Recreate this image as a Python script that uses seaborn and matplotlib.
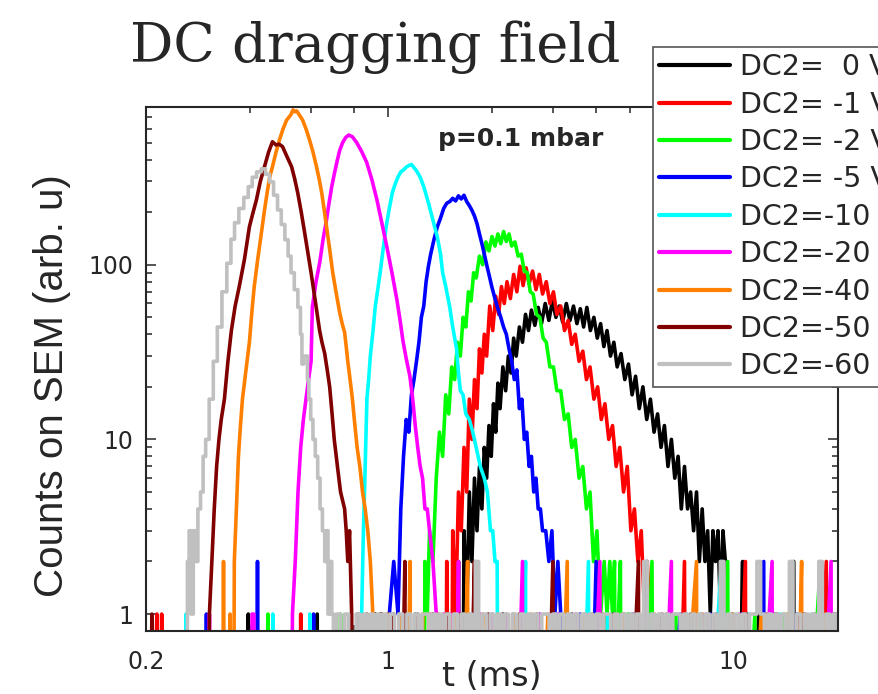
import numpy as np
import pandas as pd
import seaborn as sns
import matplotlib.pyplot as plt
from matplotlib.ticker import FixedLocator, NullFormatter

# time-of-flight histograms (t in ms, counts; 0 = empty bin)
t_0v = [0.2, 0.39, 0.395, 0.40, 0.62, 0.625, 0.63, 0.9, 0.92, 0.93, 1.15, 1.2, 1.22, 1.35, 1.37,
        1.55, 1.60, 1.63, 1.66, 1.69, 1.72, 1.75, 1.78, 1.81, 1.84, 1.87, 1.90, 1.93, 1.96, 1.99,
        2.02, 2.05, 2.08, 2.11, 2.15, 2.19, 2.23, 2.27, 2.31, 2.35, 2.40, 2.45, 2.50, 2.55, 2.60,
        2.66, 2.72, 2.78, 2.85, 2.92, 2.99, 3.06, 3.13, 3.20, 3.28, 3.36, 3.44, 3.52, 3.60, 3.68,
        3.76, 3.85, 3.94, 4.03, 4.12, 4.21, 4.30, 4.40, 4.50, 4.60, 4.72, 4.84, 4.96, 5.08, 5.20,
        5.33, 5.46, 5.60, 5.74, 5.88, 6.02, 6.16, 6.30, 6.45, 6.60, 6.75, 6.90, 7.05, 7.20, 7.35,
        7.50, 7.65, 7.80, 7.95, 8.10, 8.25, 8.40, 8.55, 8.70, 8.85, 9.00, 9.15, 9.30, 9.45, 9.55,
        9.9, 10.0, 10.6, 10.7, 11.8, 11.9, 13.1, 13.2, 14.9, 15.0, 17.2, 17.3, 19.4, 19.5, 20.0]
n_0v = [0, 0, 1, 0, 0, 1, 0, 0, 1, 0, 0, 1, 0, 1, 0,
        0, 2, 0, 3, 1, 5, 2, 6, 3, 7, 4, 9, 6, 12, 8,
        16, 11, 21, 15, 26, 19, 30, 24, 38, 30, 44, 36, 52, 42, 55,
        45, 57, 46, 60, 48, 62, 50, 58, 47, 60, 48, 58, 46, 56, 44,
        57, 42, 50, 38, 46, 34, 42, 30, 36, 26, 31, 22, 27, 18, 23,
        15, 20, 13, 17, 11, 14, 9, 12, 7, 10, 6, 8, 4, 7, 4,
        5, 3, 5, 2, 4, 2, 3, 1, 3, 2, 3, 1, 3, 2, 0,
        1, 0, 2, 0, 1, 0, 1, 0, 2, 0, 1, 0, 1, 0, 0]

t_1v = [0.2, 0.215, 0.218, 0.222, 0.226, 0.55, 0.56, 0.57, 0.98, 1.0, 1.02, 1.30, 1.32, 1.34,
        1.45, 1.48, 1.51, 1.54, 1.57, 1.60, 1.63, 1.66, 1.69, 1.72, 1.75, 1.78, 1.81, 1.84, 1.87,
        1.90, 1.93, 1.97, 2.01, 2.05, 2.09, 2.13, 2.17, 2.21, 2.26, 2.31, 2.36, 2.41, 2.46, 2.51,
        2.56, 2.62, 2.68, 2.74, 2.80, 2.87, 2.94, 3.01, 3.08, 3.16, 3.24, 3.32, 3.40, 3.48, 3.57,
        3.66, 3.75, 3.84, 3.94, 4.04, 4.14, 4.24, 4.35, 4.46, 4.57, 4.68, 4.80, 4.92, 5.04, 5.16,
        5.28, 5.40, 5.52, 5.62, 5.72, 5.80,
        6.4, 6.5, 7.2, 7.3, 8.1, 8.2, 9.3, 9.4, 10.8, 10.9, 12.5, 12.6, 15.5, 15.6, 18.5, 18.6, 20.0]
n_1v = [0, 1, 0, 1, 0, 0, 1, 0, 0, 1, 0, 0, 1, 0,
        0, 2, 0, 3, 1, 5, 3, 9, 5, 17, 10, 22, 15, 33, 24,
        40, 30, 58, 42, 66, 52, 75, 60, 80, 64, 88, 70, 98, 76, 96,
        78, 92, 72, 88, 68, 80, 60, 70, 52, 58, 42, 48, 35, 40, 28,
        32, 22, 26, 17, 20, 13, 16, 10, 12, 7, 9, 5, 7, 3, 4,
        2, 3, 1, 2, 1, 0,
        1, 0, 2, 0, 1, 0, 1, 0, 2, 0, 1, 0, 1, 0, 2, 0, 0]

t_2v = [0.2, 0.44, 0.45, 0.46, 0.72, 0.73, 0.74, 1.10, 1.12, 1.14, 1.26, 1.28, 1.30, 1.32, 1.35,
        1.38, 1.41, 1.44, 1.47, 1.50, 1.53, 1.56, 1.59, 1.62, 1.65, 1.68, 1.71, 1.74, 1.77, 1.80,
        1.84, 1.88, 1.92, 1.96, 2.00, 2.04, 2.08, 2.12, 2.16, 2.20, 2.24, 2.28, 2.33, 2.38, 2.43,
        2.48, 2.53, 2.58, 2.63, 2.69, 2.75, 2.81, 2.87, 2.94, 3.01, 3.08, 3.16, 3.24, 3.32, 3.40,
        3.48, 3.57, 3.66, 3.75, 3.84, 3.93, 4.02, 4.12, 4.22, 4.30, 4.38, 4.46, 4.52, 4.58, 4.64,
        4.70, 4.76, 4.82, 4.88, 4.94,
        5.0, 5.1, 5.8, 5.9, 6.8, 6.9, 8.0, 8.1, 9.6, 9.7, 11.5, 11.6, 14.0, 14.1, 17.8, 17.9, 20.0]
n_2v = [0, 0, 1, 0, 0, 1, 0, 0, 1, 0, 0, 2, 1, 3, 2,
        6, 11, 8, 18, 14, 26, 22, 36, 30, 50, 44, 70, 62, 90, 84,
        112, 100, 135, 120, 145, 128, 150, 132, 155, 136, 150, 128, 135, 112, 115,
        92, 90, 70, 68, 52, 50, 38, 36, 26, 26, 19, 19, 13, 14, 9,
        10, 6, 7, 4, 5, 2, 3, 1, 2, 1, 2, 1, 2, 0, 1,
        2, 0, 1, 0, 1,
        1, 0, 2, 0, 1, 0, 1, 0, 2, 0, 1, 0, 1, 0, 2, 0, 0]

t_5v = [0.2, 0.296, 0.299, 0.302, 0.415, 0.42, 0.425, 0.6, 0.61, 0.62, 0.98, 1.01, 1.04, 1.07,
        1.09, 1.11, 1.13, 1.15, 1.17, 1.19, 1.21, 1.23, 1.25, 1.27, 1.29, 1.31, 1.33, 1.36, 1.39,
        1.42, 1.45, 1.48, 1.51, 1.54, 1.57, 1.60, 1.63, 1.66, 1.69, 1.72, 1.75, 1.78, 1.81, 1.84,
        1.87, 1.90, 1.93, 1.96, 2.00, 2.04, 2.08, 2.12, 2.16, 2.20, 2.24, 2.28, 2.32, 2.36, 2.40,
        2.44, 2.48, 2.52, 2.56, 2.60, 2.64, 2.68, 2.72, 2.76, 2.80, 2.86, 2.92, 2.98, 3.04, 3.10,
        3.16, 3.22,
        3.3, 3.32, 3.6, 3.62, 4.0, 4.02, 4.5, 4.52, 5.1, 5.13, 5.6, 5.63, 7.0, 7.04, 8.6, 8.64,
        10.6, 10.65, 12.2, 12.26, 15.2, 15.28, 18.9, 18.99, 20.0]
n_5v = [0, 0, 1, 0, 0, 2, 0, 0, 1, 0, 0, 1, 2, 1,
        4, 8, 13, 11, 18, 22, 28, 36, 50, 58, 80, 98, 115, 140, 165,
        185, 210, 225, 230, 240, 232, 248, 238, 250, 230, 218, 205, 190, 172, 150,
        132, 115, 100, 88, 74, 64, 56, 50, 44, 40, 33, 28, 22, 25, 15,
        17, 10, 11, 7, 8, 5, 6, 4, 4, 3, 3, 2, 3, 1, 2,
        1, 0,
        1, 0, 1, 0, 2, 0, 1, 0, 1, 0, 2, 0, 1, 0, 1, 0,
        1, 0, 2, 0, 1, 0, 1, 0, 0]

t_10v = [0.2, 0.258, 0.261, 0.264, 0.46, 0.465, 0.47, 0.59, 0.595, 0.60, 0.83, 0.84, 0.85, 0.86,
         0.87, 0.88, 0.89, 0.905, 0.92, 0.935, 0.95, 0.965, 0.98, 0.993, 1.01, 1.03, 1.05, 1.07,
         1.09, 1.11, 1.13, 1.15, 1.17, 1.19, 1.21, 1.24, 1.27, 1.31, 1.35, 1.39, 1.42, 1.44, 1.47,
         1.51, 1.54, 1.58, 1.60, 1.62, 1.65, 1.68, 1.72, 1.76, 1.80, 1.85, 1.90, 1.94, 1.98, 2.01,
         2.04, 2.07, 2.10,
         2.15, 2.16, 2.3, 2.31, 2.5, 2.51, 2.75, 2.76, 3.05, 3.07, 3.4, 3.42, 3.8, 3.82, 4.3, 4.32,
         5.0, 5.03, 5.8, 5.83, 7.3, 7.34, 9.2, 9.25, 11.0, 11.05, 13.6, 13.66, 16.8, 16.88, 20.0]
n_10v = [0, 0, 1, 0, 0, 1, 0, 0, 1, 0, 0, 1, 3, 7,
         17, 22, 30, 41, 58, 72, 90, 115, 145, 174, 210, 258, 290, 318,
         340, 349, 362, 370, 375, 360, 345, 317, 280, 226, 180, 144, 115, 90, 75,
         57, 44, 33, 24, 19, 18, 14, 13, 11, 9, 7, 6, 5, 3, 3,
         2, 2, 0,
         1, 0, 1, 0, 2, 0, 1, 0, 1, 0, 1, 0, 2, 0, 1, 0,
         1, 0, 1, 0, 1, 0, 2, 0, 1, 0, 1, 0, 1, 0, 0]

t_20v = [0.2, 0.30, 0.305, 0.31, 0.40, 0.405, 0.41, 0.415, 0.52, 0.53, 0.54, 0.55, 0.56, 0.57,
         0.58, 0.59, 0.600, 0.605, 0.62, 0.635, 0.65, 0.665, 0.676, 0.688, 0.70, 0.713, 0.726,
         0.74, 0.755, 0.771, 0.79, 0.813, 0.84, 0.869, 0.90, 0.93, 0.96, 0.993, 1.03, 1.062, 1.085,
         1.105, 1.13, 1.158, 1.18, 1.20, 1.22, 1.24, 1.26, 1.28, 1.30, 1.32, 1.35, 1.38, 1.41,
         1.45, 1.46, 1.52, 1.53, 1.6, 1.61, 1.72, 1.73, 1.85, 1.86, 2.0, 2.01, 2.2, 2.21,
         2.45, 2.46, 2.75, 2.76, 3.1, 3.12, 3.5, 3.52, 4.1, 4.12, 4.8, 4.83, 5.6, 5.63,
         6.6, 6.64, 8.3, 8.34, 10.4, 10.45, 12.9, 12.96, 15.9, 15.97, 19.1, 19.19, 20.0]
n_20v = [0, 0, 1, 0, 0, 1, 1, 0, 0, 1, 2, 5, 9, 13,
         17, 22, 28, 57, 80, 102, 140, 181, 225, 278, 330, 390, 452,
         500, 535, 553, 540, 500, 445, 385, 305, 235, 175, 127, 88, 63, 48,
         37, 29, 23, 17, 12, 9, 7, 6, 4, 4, 3, 2, 1, 0,
         1, 0, 1, 0, 2, 0, 1, 0, 1, 0, 1, 0, 1, 0,
         2, 0, 1, 0, 1, 0, 1, 0, 2, 0, 1, 0, 1, 0,
         2, 0, 1, 0, 1, 0, 2, 0, 1, 0, 2, 0, 0]

t_40v = [0.2, 0.33, 0.335, 0.34, 0.35, 0.355, 0.36, 0.365, 0.37, 0.375, 0.38, 0.39, 0.398, 0.405,
         0.411, 0.42, 0.431, 0.44, 0.449, 0.456, 0.464, 0.475, 0.486, 0.498, 0.51, 0.524, 0.532,
         0.538, 0.545, 0.555, 0.567, 0.58, 0.594, 0.608, 0.622, 0.633, 0.644, 0.655, 0.665, 0.68,
         0.693, 0.71, 0.726, 0.74, 0.75, 0.758, 0.766, 0.78, 0.79, 0.80, 0.815, 0.83, 0.845, 0.86,
         0.875, 0.89, 0.905, 0.92,
         0.95, 0.96, 1.0, 1.01, 1.08, 1.09, 1.16, 1.17, 1.26, 1.27, 1.4, 1.41, 1.55, 1.56,
         1.7, 1.71, 1.88, 1.89, 2.08, 2.09, 2.3, 2.31, 2.6, 2.61, 2.9, 2.92, 3.3, 3.32, 3.7, 3.72,
         4.2, 4.22, 4.8, 4.83, 5.9, 5.93, 7.8, 7.84, 9.9, 9.95, 12.0, 12.06, 14.3, 14.37,
         15.7, 15.78, 18.2, 18.29, 20.0]
n_40v = [0, 0, 2, 0, 1, 0, 2, 4, 8, 12, 17, 26, 36, 55,
         75, 105, 152, 205, 267, 320, 364, 440, 518, 600, 674, 720, 770,
         750, 760, 720, 674, 600, 518, 440, 364, 310, 258, 205, 165, 120,
         90, 68, 53, 45, 41, 34, 28, 21, 17, 13, 9, 7, 5, 4,
         3, 2, 1, 0,
         1, 0, 1, 0, 1, 0, 2, 0, 1, 0, 1, 0, 1, 0,
         2, 0, 1, 0, 1, 0, 1, 0, 1, 0, 1, 0, 2, 0, 1, 0,
         1, 0, 1, 0, 1, 0, 2, 0, 1, 0, 1, 0, 1, 0,
         2, 0, 1, 0, 0]

t_50v = [0.2, 0.208, 0.212, 0.30, 0.305, 0.31, 0.315, 0.32, 0.325, 0.33, 0.337, 0.345, 0.353,
         0.362, 0.372, 0.385, 0.398, 0.408, 0.417, 0.428, 0.44, 0.452, 0.464, 0.475, 0.485, 0.496,
         0.51, 0.527, 0.538, 0.549, 0.562, 0.575, 0.587, 0.60, 0.617, 0.635, 0.645, 0.657, 0.668,
         0.679, 0.69, 0.70, 0.715, 0.73, 0.75, 0.758, 0.766, 0.775, 0.786, 0.795,
         0.82, 0.83, 0.87, 0.88, 0.95, 0.96, 0.97, 1.04, 1.05, 1.12, 1.13, 1.22, 1.23, 1.35, 1.36,
         1.48, 1.49, 1.62, 1.63, 1.78, 1.79, 1.95, 1.96, 2.15, 2.16, 2.4, 2.41, 2.7, 2.71,
         3.0, 3.02, 3.4, 3.42, 3.9, 3.92, 4.5, 4.52, 5.3, 5.33, 6.2, 6.23, 7.5, 7.54, 8.9, 8.94,
         10.9, 10.95, 13.3, 13.36, 16.0, 16.07, 19.7, 19.78, 20.0]
n_50v = [0, 1, 0, 0, 1, 2, 4, 7, 10, 13, 17, 28, 42,
         58, 75, 107, 165, 200, 235, 300, 364, 440, 506, 485, 490, 475,
         420, 364, 310, 258, 200, 152, 118, 90, 62, 42, 36, 31, 25,
         20, 14, 10, 7, 5, 4, 3, 2, 3, 1, 0,
         1, 0, 1, 0, 1, 1, 0, 1, 0, 2, 0, 1, 0, 1, 0,
         1, 0, 1, 0, 2, 0, 1, 0, 1, 0, 1, 0, 1, 0,
         2, 0, 1, 0, 1, 0, 1, 0, 2, 0, 1, 0, 1, 0, 1, 0,
         1, 0, 1, 0, 1, 0, 1, 0, 0]

t_60v = [0.2, 0.262, 0.265, 0.268, 0.272, 0.276, 0.28, 0.285, 0.29, 0.295, 0.30, 0.309, 0.317,
         0.326, 0.337, 0.348, 0.356, 0.365, 0.377, 0.390, 0.400, 0.411, 0.424, 0.437, 0.449, 0.461,
         0.474, 0.486, 0.498, 0.510, 0.520, 0.530, 0.543, 0.556, 0.562, 0.567, 0.575, 0.583, 0.588,
         0.594, 0.603, 0.612, 0.622, 0.632, 0.642, 0.652, 0.662, 0.668, 0.675, 0.685, 0.692, 0.70]
n_60v = [0, 0, 2, 3, 1, 3, 2, 4, 5, 8, 10, 17, 28,
         44, 70, 102, 140, 174, 210, 243, 280, 317, 340, 354, 330, 298,
         250, 206, 170, 139, 112, 90, 72, 57, 40, 27, 30, 30, 22,
         17, 13, 10, 8, 6, 4, 3, 2, 3, 1, 2, 1, 0]

# single-count background of the -60 V trace after its peak
t_60v_tail = [0.72, 0.74, 0.76, 0.78, 0.80, 0.82, 0.84, 0.86, 0.88, 0.90,
              0.92, 0.94, 0.96, 0.98, 1.00, 1.03, 1.06, 1.09, 1.12, 1.15,
              1.18, 1.21, 1.24, 1.27, 1.30, 1.33, 1.36, 1.39, 1.42, 1.45,
              1.49, 1.53, 1.57, 1.61, 1.65, 1.69, 1.73, 1.77, 1.81, 1.85,
              1.90, 1.95, 2.00, 2.05, 2.10, 2.15, 2.20, 2.26, 2.32, 2.38,
              2.44, 2.50, 2.56, 2.62, 2.68, 2.75, 2.82, 2.89, 2.96, 3.03,
              3.10, 3.18, 3.26, 3.34, 3.42, 3.50, 3.59, 3.68, 3.77, 3.86,
              3.95, 4.05, 4.15, 4.25, 4.35, 4.46, 4.57, 4.68, 4.80, 4.92,
              5.04, 5.16, 5.29, 5.42, 5.55, 5.69, 5.83, 5.97, 6.12, 6.27,
              6.42, 6.58, 6.74, 6.91, 7.08, 7.25, 7.43, 7.61, 7.80, 7.99,
              8.19, 8.39, 8.60, 8.81, 9.03, 9.25, 9.48, 9.71, 9.95, 10.2,
              10.45, 10.7, 10.97, 11.24, 11.52, 11.8, 12.1, 12.4, 12.7, 13.0,
              13.3, 13.6, 13.95, 14.3, 14.65, 15.0, 15.4, 15.8, 16.2, 16.6,
              17.0, 17.4, 17.8, 18.25, 18.7, 19.15, 19.6, 20.1]
n_60v_tail = [1, 0, 1, 0, 0, 1, 0, 1, 0, 1,
              0, 1, 0, 1, 0, 1, 0, 1, 0, 1,
              0, 1, 0, 1, 1, 0, 1, 0, 1, 0,
              1, 0, 1, 0, 1, 0, 1, 0, 2, 0,
              1, 0, 1, 0, 1, 0, 1, 0, 1, 0,
              1, 0, 1, 0, 1, 0, 1, 1, 0, 1,
              0, 1, 0, 1, 0, 1, 0, 1, 0, 1,
              0, 1, 0, 1, 1, 0, 1, 0, 1, 0,
              1, 0, 1, 0, 2, 0, 1, 0, 1, 0,
              1, 0, 1, 1, 0, 1, 0, 1, 0, 1,
              0, 1, 0, 1, 0, 2, 0, 1, 0, 1,
              0, 1, 0, 1, 1, 2, 1, 0, 1, 0,
              1, 0, 1, 0, 2, 0, 1, 0, 1, 0,
              1, 0, 2, 0, 1, 0, 1, 0]

labels = ["DC2=  0 V", "DC2= -1 V", "DC2= -2 V", "DC2= -5 V", "DC2=-10 V",
          "DC2=-20 V", "DC2=-40 V", "DC2=-50 V", "DC2=-60 V"]
colors = ["#000000", "#ff0000", "#00ff00", "#0000ff", "#00ffff",
          "#ff00ff", "#ff8000", "#800000", "#c0c0c0"]
times = [t_0v, t_1v, t_2v, t_5v, t_10v, t_20v, t_40v, t_50v, t_60v + t_60v_tail]
counts = [n_0v, n_1v, n_2v, n_5v, n_10v, n_20v, n_40v, n_50v, n_60v + n_60v_tail]

# empty bins cannot sit on a log axis: draw them well below the frame, like Origin does
ZERO_FLOOR = 1e-3

sns.set_style("ticks")
plt.rcParams['font.family'] = ['DejaVu Sans']

fig = plt.figure(figsize=(8.79, 6.94), dpi=100)
ax = fig.add_axes([146 / 879, 1 - 631 / 694, (838 - 146) / 879, (631 - 107) / 694])

for i, (lab, col, t, n) in enumerate(zip(labels, colors, times, counts)):
    n_plot = np.where(np.asarray(n) > 0, n, ZERO_FLOOR)
    # the last (grey) trace is dense, drawn as a histogram step line
    style = 'steps-mid' if i == len(labels) - 1 else 'default'
    sns.lineplot(x=t, y=n_plot, ax=ax, color=col, lw=2.6, estimator=None, sort=False,
                 label=lab, legend=False, drawstyle=style)
ax.lines[-1].set_snap(False)

ax.set_xscale('log')
ax.set_yscale('log')
ax.set_xlim(0.2, 20)
ax.set_ylim(0.8, 800)

ax.xaxis.set_major_locator(FixedLocator([0.2, 1, 10]))
ax.set_xticklabels(["0.2", "1", "10"])
ax.xaxis.set_minor_locator(FixedLocator([0.4, 0.6, 0.8, 2, 3, 4, 5, 6, 7, 8, 9, 20]))
ax.xaxis.set_minor_formatter(NullFormatter())
ax.yaxis.set_major_locator(FixedLocator([1, 10, 100]))
ax.set_yticklabels(["1", "10", "100"])
ax.yaxis.set_minor_locator(FixedLocator([2, 3, 4, 5, 6, 7, 8, 9, 20, 30, 40, 50, 60, 70, 80, 90,
                                         200, 300, 400, 500, 600, 700]))
ax.yaxis.set_minor_formatter(NullFormatter())

ax.tick_params(which='both', direction='in', top=True, right=True, width=1.1, labelsize=17)
ax.tick_params(which='major', length=7.2)
ax.tick_params(which='minor', length=4.3)
ax.tick_params(axis='x', pad=14)
ax.tick_params(axis='y', pad=9)
for s in ax.spines.values():
    s.set_linewidth(1.5)

ax.set_xlabel("")
ax.set_ylabel("")
fig.text(492 / 879, 1 / 694, "t (ms)", ha='center', va='bottom', fontsize=24)
fig.text(52 / 879, 1 - 386 / 694, "Counts on SEM (arb. u)", ha='center', va='center',
         rotation=90, fontsize=29, family=['Liberation Sans', 'DejaVu Sans'])
fig.text(521 / 879, 1 - 139 / 694, "p=0.1 mbar", ha='center', va='center',
         fontsize=18, fontweight='bold')
fig.text(130 / 879, 1 - 62 / 694, "DC dragging field", ha='left', va='baseline',
         fontsize=39, family=['DejaVu Serif'])

handles, labs = ax.get_legend_handles_labels()
leg = fig.legend(handles, labs, loc='upper left', bbox_to_anchor=(653 / 879, 1 - 47 / 694),
                 bbox_transform=fig.transFigure, borderaxespad=0, fontsize=20.5,
                 handlelength=2.5, handletextpad=0.33, labelspacing=0.33, borderpad=0.22,
                 frameon=True, fancybox=False, framealpha=1, edgecolor='#555555')
leg.get_frame().set_linewidth(1.2)
for h in leg.get_lines():
    h.set_linewidth(3.0)
    h.set_drawstyle('default')

fig.savefig("out.png", dpi=100)
